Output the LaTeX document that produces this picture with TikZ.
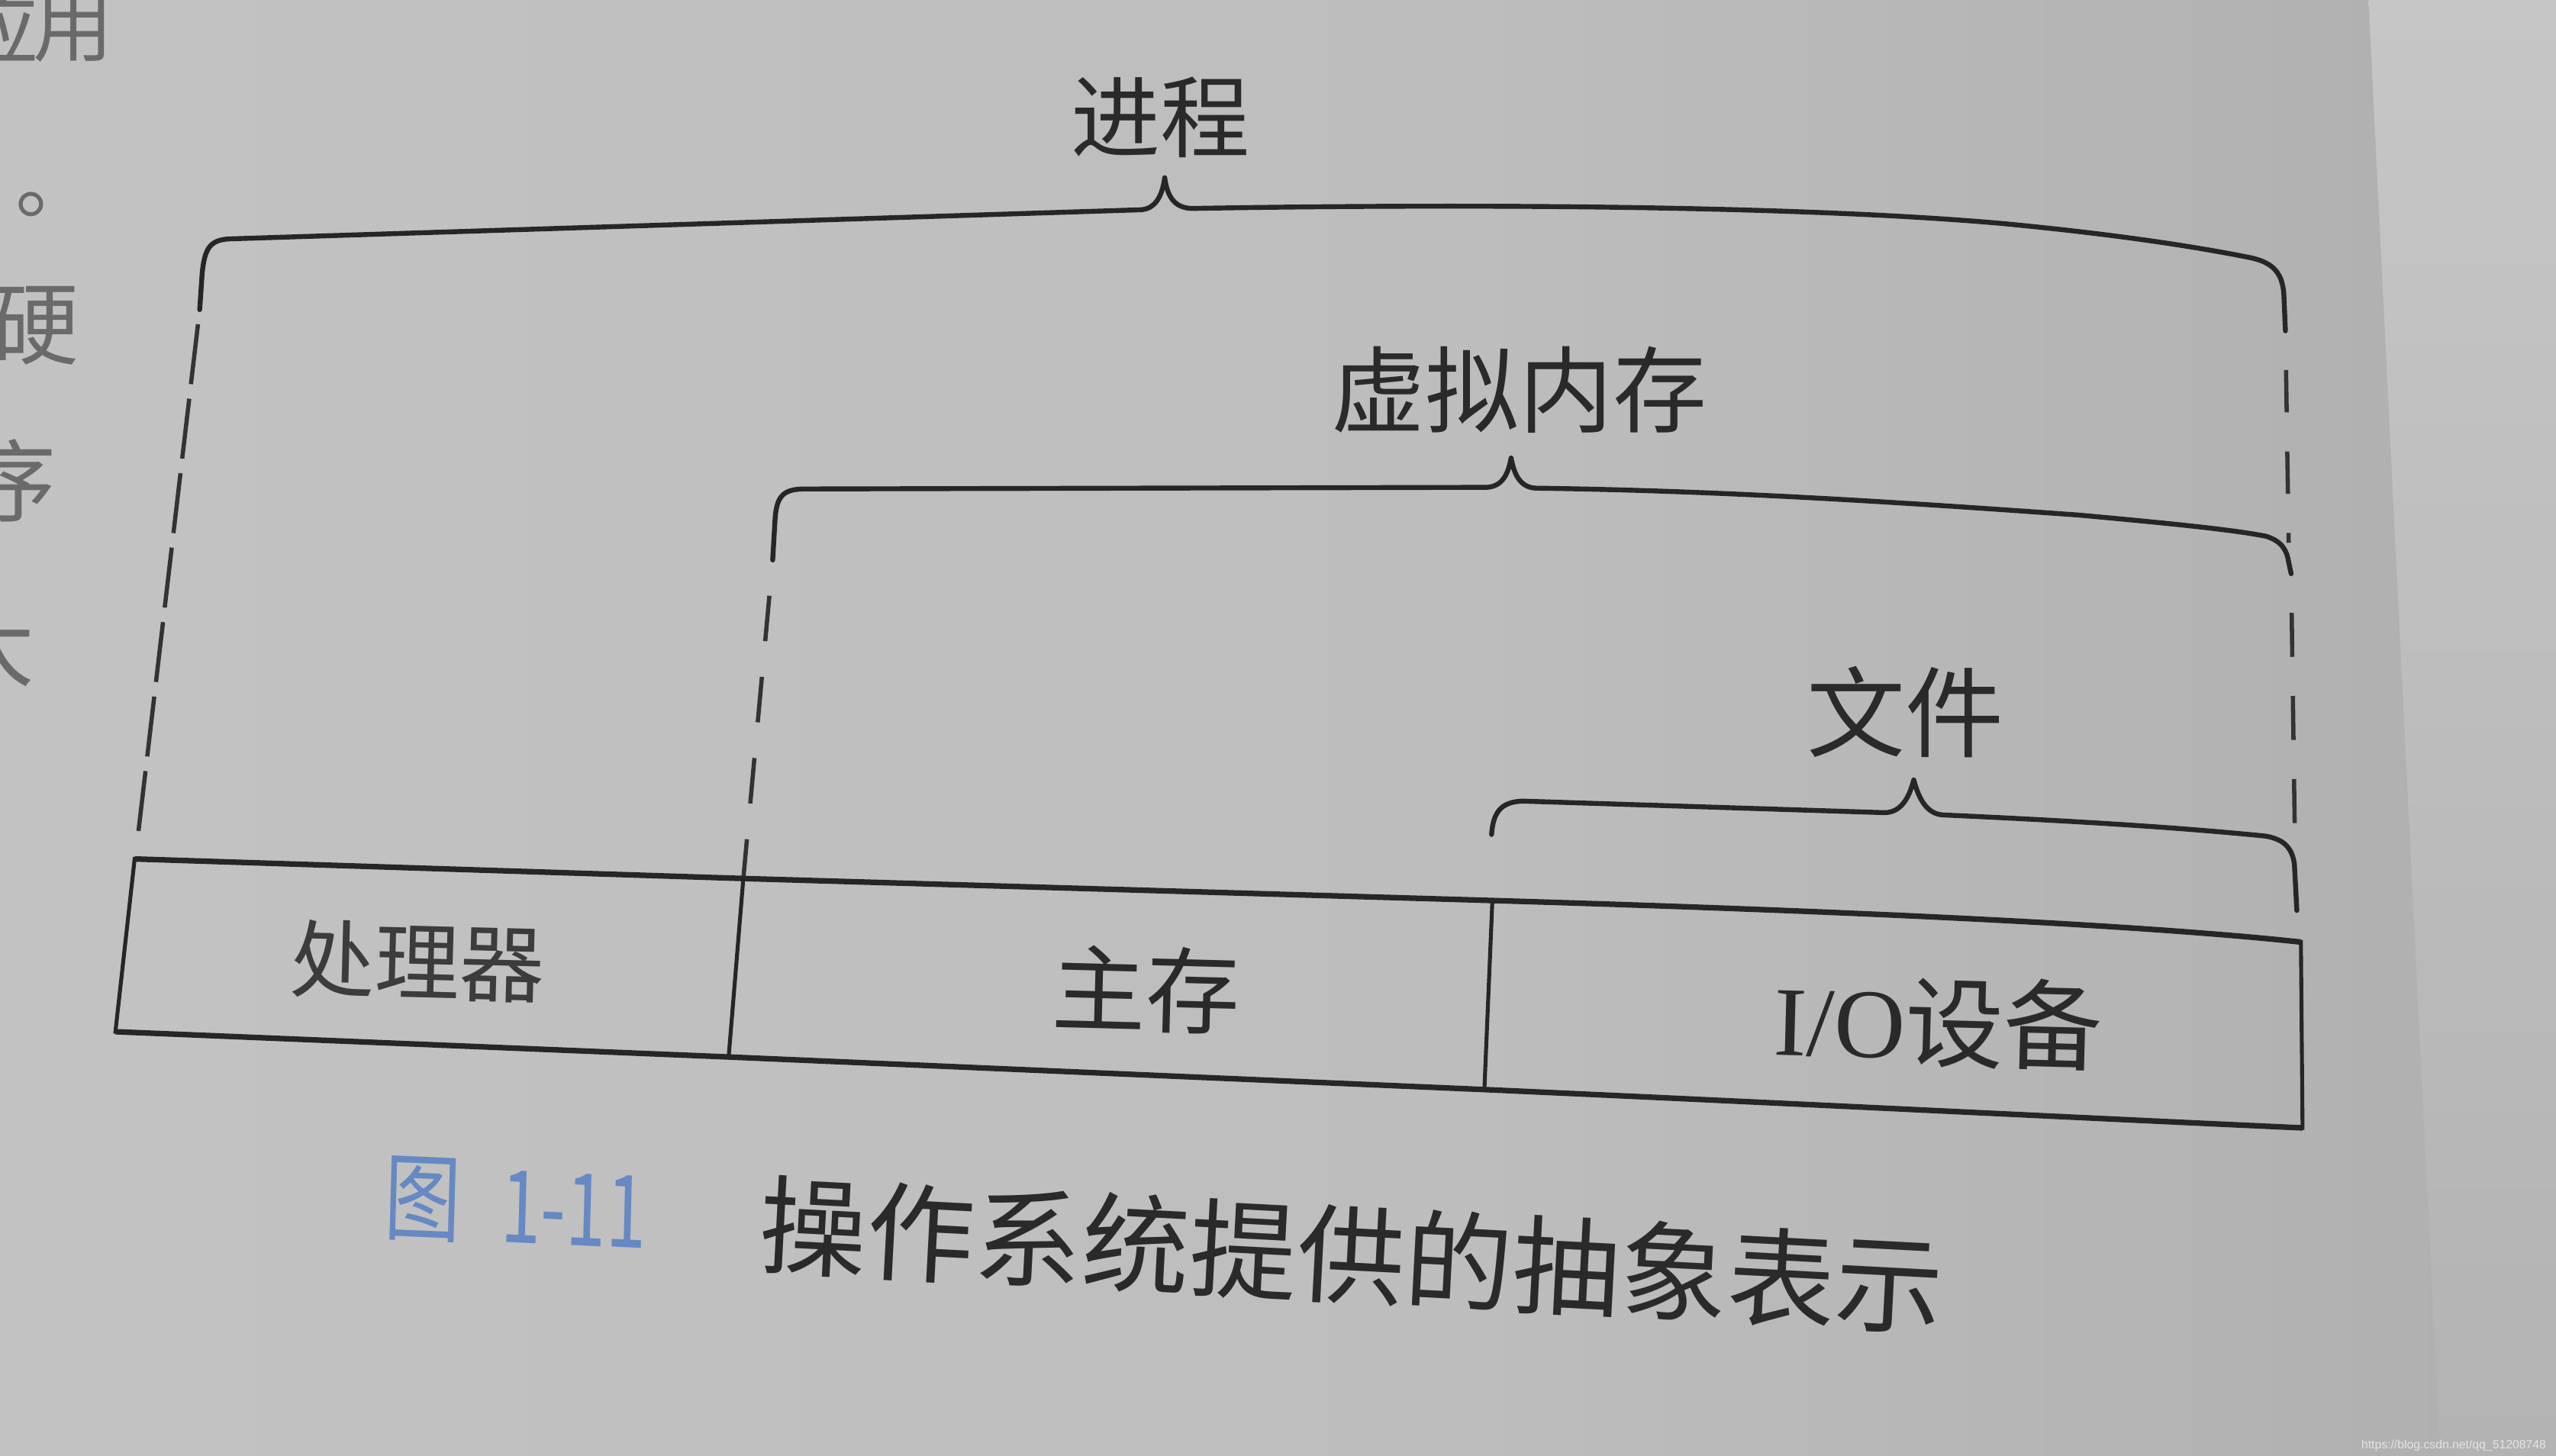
\documentclass[tikz,border=0pt]{standalone}
\usepackage{fontspec}
\newfontfamily\cjk{Noto Sans CJK SC}
\newfontfamily\serifio{Liberation Serif}
\newfontfamily\wmfont{Liberation Sans}
\newcommand{\fsz}[1]{\fontsize{#1}{#1}\selectfont}
\definecolor{pgA}{HTML}{C7C7C7}
\definecolor{pgB}{HTML}{BDBDBD}
\definecolor{pgC}{HTML}{A8A8A8}
\definecolor{pgD}{HTML}{8E8E8E}
\definecolor{rtA}{HTML}{C6C6C6}
\definecolor{rtB}{HTML}{B3B3B3}
\definecolor{linec}{HTML}{262626}
\definecolor{dashc}{HTML}{333333}
\definecolor{inkc}{HTML}{2A2A2A}
\definecolor{softink}{HTML}{3C3C3C}
\definecolor{margink}{HTML}{6A6A6A}
\definecolor{capblue}{HTML}{6689C4}
\definecolor{wmc}{HTML}{E4E4E4}
\pgfdeclarehorizontalshading{pageshade}{100bp}{color(0bp)=(pgA); color(55bp)=(pgB); color(88bp)=(pgC); color(100bp)=(pgD)}
\tikzset{
  lbl/.style={inner sep=0pt, text=inkc},
  marg/.style={inner sep=0pt, text=margink, font=\cjk\fsz{78}},
  bracepath/.style={draw=linec, line width=1.5mm, line cap=round, line join=round},
  dashleft/.style={draw=dashc, line width=1.3mm, dash pattern=on 18.5mm off 4.5mm, dash phase=18.5mm},
  dashmid/.style={draw=dashc, line width=1.3mm, dash pattern=on 14mm off 11mm, dash phase=14mm},
  dashright/.style={draw=dashc, line width=1.3mm, dash pattern=on 13mm off 12mm, dash phase=13mm},
  boxh/.style={draw=linec, line width=1.7mm, line cap=butt},
  boxv/.style={draw=linec, line width=1.2mm, line cap=rect},
}
\begin{document}
\begin{tikzpicture}[x=0.5mm,y=-0.5mm]
\useasboundingbox (0,0) rectangle (1568,893.3);
\clip (0,0) rectangle (1568,893.3);
% page background
\shade[shading=pageshade] (0,0) rectangle (1500,893.3);
\shade[top color=rtA, bottom color=rtB] (1453,0) -- (1568,0) -- (1568,893.3) -- (1497,893.3) -- cycle;

% fragments of the body text at the left margin (cut by the photo's edge)
\node[marg, font=\cjk\fsz{70}] (m1) at (-1,17) {应};
\node[marg, font=\cjk\fsz{70}] (m2) at (45,17) {用};
\node[marg, font=\cjk\fsz{70}] (m3) at (34,125.5) {。};
\node[marg] (m4) at (21,200) {硬};
\node[marg] (m5) at (7,295) {序};
\node[marg] (m6) at (-6,396) {大};

% key points
\coordinate (pL) at (122.5,190);
\coordinate (pLb) at (84,518);
\coordinate (pR) at (1402,203);
\coordinate (vL) at (474,343.6);
\coordinate (vR) at (1405.5,352);
\coordinate (vCorner) at (1404,333);
\coordinate (fR) at (1409,558.6);
\coordinate (fCorner) at (1408,529);
\coordinate (tl) at (82.6,527);
\coordinate (t1) at (456,539);
\coordinate (t2) at (915.5,552.5);
\coordinate (tr) at (1411.5,578);
\coordinate (bl) at (70.8,633);
\coordinate (b1) at (447,648.5);
\coordinate (b2) at (910.6,668.5);
\coordinate (br) at (1412.5,692);

% brace: process
\draw[bracepath] (pL) -- (124,168) .. controls (125.5,152) and (129,147.5) .. (140,146.6)
  -- (700,128.7) .. controls (709,128) and (713,120) .. (714.5,109)
  .. controls (716,120) and (720,127.5) .. (731,127.9)
  .. controls (900,125) and (1100,126) .. (1227,137)
  .. controls (1290,143) and (1340,150) .. (1380,158)
  .. controls (1395,161) and (1400,168) .. (1401,180) -- (pR);
% brace: virtual memory
\draw[bracepath] (vL) -- (475.5,318) .. controls (476.5,305) and (480,300.5) .. (492,300)
  -- (912,299) .. controls (921,298.5) and (925,292) .. (927,281)
  .. controls (929,292) and (933,299) .. (942,299.5)
  .. controls (1050,301) and (1150,307) .. (1275,316)
  .. controls (1330,321) and (1370,325) .. (1390,329)
  .. controls (1400,332) and (1403,338) .. (1404,345) -- (vR);
% brace: files
\draw[bracepath] (915,512) .. controls (916,498) and (921,492) .. (934,491.5)
  -- (1156,498.6) .. controls (1166,498.5) and (1171,490) .. (1174,478.5)
  .. controls (1177,490) and (1182,499.5) .. (1192,500)
  .. controls (1280,504) and (1340,508) .. (1390,513)
  .. controls (1401,515) and (1406,520) .. (1407.5,530) -- (fR);

% dashed guides
\draw[dashleft] (pL) -- (pLb);
\draw[dashmid] (vL) -- (t1);
\draw[dashright] (pR) -- (vCorner);
\draw[dashright, dash pattern=on 13.5mm off 12mm, dash phase=13.5mm] (vR) -- (fCorner);

% boxes
\draw[boxh] (tl) -- (t1) -- (t2) .. controls (1100,558) and (1300,566) .. (tr);
\draw[boxh] (bl) -- (b1) -- (b2) .. controls (1100,677) and (1300,687) .. (br);
\draw[boxv] (tl) -- (bl);
\draw[boxv] (t1) -- (b1);
\draw[boxv] (t2) -- (b2);
\draw[boxv] (tr) -- (br);

% labels
\node[lbl, font=\cjk\fsz{78}] (proc) at (712,72) {进程};
\node[lbl, font=\cjk\fsz{82}] (vm) at (932,239) {虚拟内存};
\node[lbl, font=\cjk\fsz{86}] (file) at (1169,437) {文件};
\node[lbl, text=softink, font=\cjk\fsz{74}, rotate=-1.5] (cpu) at (256,590) {处理器};
\node[lbl, font=\cjk\fsz{82}, rotate=-1.5] (mem) at (703,607) {主存};
\node[lbl, font=\fsz{86}, rotate=-1.5] (io) at (1189,627) {{\serifio I/O}{\cjk 设备}};

% caption
\node[lbl, text=capblue, font=\cjk\fsz{84}, xscale=0.8, rotate=-2] (fig) at (259.5,736) {图};
\node[lbl, text=capblue, font=\cjk\fsz{88}, xscale=0.72, rotate=-2] (fignum) at (352,742) {1-11};
\node[lbl, font=\cjk\fsz{94}, rotate=-3] (cap) at (829,770) {操作系统提供的抽象表示};

% watermark
\node[inner sep=0pt, anchor=base east, text=wmc, font=\wmfont\fsz{10.5}] (wm) at (1562,889) {https://blog.csdn.net/qq\_51208748};
\end{tikzpicture}
\end{document}
